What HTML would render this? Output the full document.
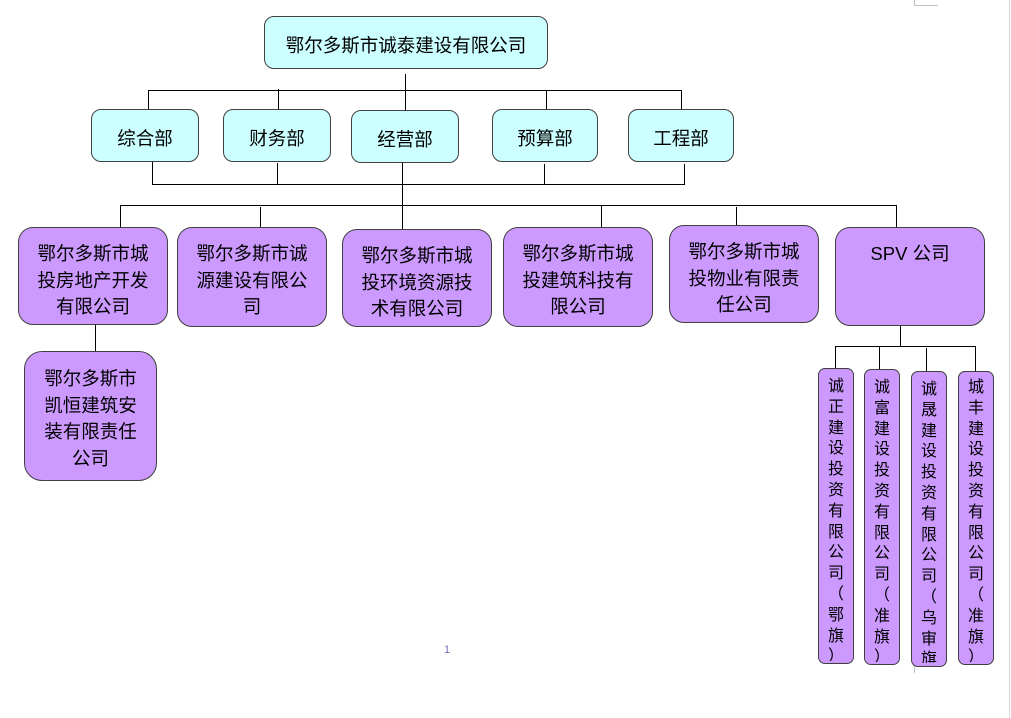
<!DOCTYPE html>
<html><head><meta charset="utf-8">
<style>
html,body{margin:0;padding:0;background:#fff;}
body{width:1011px;height:718px;position:relative;overflow:hidden;font-family:"Liberation Sans","Noto Sans CJK SC","WenQuanYi Zen Hei",sans-serif;color:#000;}
.b{position:absolute;box-sizing:border-box;border:1.4px solid #404040;text-align:center;}
.c{background:#CCFFFF;border-radius:10px;font-size:18.5px;display:flex;align-items:center;justify-content:center;padding-top:5px;}
.p{background:#CC99FF;border-radius:15px;font-size:18.5px;line-height:26.7px;padding-top:13px;}
.v{background:#CC99FF;border-radius:7px;font-size:16px;line-height:20.8px;overflow:hidden;}
.v .in{position:absolute;left:0;right:0;top:8px;overflow:hidden;}
.v .in span{display:block;height:20.8px;}
svg{position:absolute;left:0;top:0;}
</style></head><body>
<svg width="1011" height="718">
<g stroke="#000" stroke-width="1" fill="none" shape-rendering="crispEdges">
<line x1="405.5" y1="74" x2="405.5" y2="110"/>
<line x1="148" y1="90.5" x2="682" y2="90.5"/>
<line x1="148.5" y1="90" x2="148.5" y2="109"/>
<line x1="278.5" y1="89" x2="278.5" y2="109"/>
<line x1="546.5" y1="90" x2="546.5" y2="109"/>
<line x1="681.5" y1="90" x2="681.5" y2="109"/>
<line x1="152.5" y1="162" x2="152.5" y2="184"/>
<line x1="277.5" y1="163" x2="277.5" y2="184"/>
<line x1="544.5" y1="164" x2="544.5" y2="185"/>
<line x1="684.5" y1="164" x2="684.5" y2="185"/>
<line x1="152" y1="184.5" x2="685" y2="184.5"/>
<line x1="402.5" y1="163" x2="402.5" y2="229"/>
<line x1="120" y1="205.5" x2="897" y2="205.5"/>
<line x1="120.5" y1="205" x2="120.5" y2="227"/>
<line x1="260.5" y1="207" x2="260.5" y2="227"/>
<line x1="601.5" y1="205" x2="601.5" y2="227"/>
<line x1="736.5" y1="207" x2="736.5" y2="225"/>
<line x1="896.5" y1="205" x2="896.5" y2="227"/>
<line x1="95.5" y1="325" x2="95.5" y2="351"/>
<line x1="900.5" y1="326" x2="900.5" y2="347"/>
<line x1="835" y1="346.5" x2="976" y2="346.5"/>
<line x1="835.5" y1="346" x2="835.5" y2="368"/>
<line x1="879.5" y1="346" x2="879.5" y2="369"/>
<line x1="926.5" y1="348" x2="926.5" y2="371"/>
<line x1="975.5" y1="346" x2="975.5" y2="371"/>
</g>
<g stroke="#c0c0c0" stroke-width="1" shape-rendering="crispEdges">
<line x1="914.5" y1="0" x2="914.5" y2="6"/>
<line x1="914" y1="5.5" x2="938" y2="5.5"/>
<line x1="914.5" y1="666" x2="914.5" y2="673"/>
</g>
<line x1="1009.5" y1="0" x2="1009.5" y2="718" stroke="#dcdcdc" stroke-width="1" shape-rendering="crispEdges"/>
</svg>

<div class="b c" style="left:264px;top:16px;width:284px;height:53px;">鄂尔多斯市诚泰建设有限公司</div>

<div class="b c" style="left:91px;top:109px;width:108px;height:53px;">综合部</div>
<div class="b c" style="left:223px;top:109px;width:108px;height:53px;">财务部</div>
<div class="b c" style="left:351px;top:110px;width:108px;height:53px;">经营部</div>
<div class="b c" style="left:492px;top:109px;width:106px;height:53px;">预算部</div>
<div class="b c" style="left:628px;top:109px;width:106px;height:53px;">工程部</div>

<div class="b p" style="left:18px;top:227px;width:150px;height:98px;">鄂尔多斯市城<br>投房地产开发<br>有限公司</div>
<div class="b p" style="left:177px;top:227px;width:150px;height:100px;">鄂尔多斯市诚<br>源建设有限公<br>司</div>
<div class="b p" style="left:342px;top:229px;width:150px;height:98px;">鄂尔多斯市城<br>投环境资源技<br>术有限公司</div>
<div class="b p" style="left:503px;top:227px;width:150px;height:100px;">鄂尔多斯市城<br>投建筑科技有<br>限公司</div>
<div class="b p" style="left:669px;top:225px;width:150px;height:98px;">鄂尔多斯市城<br>投物业有限责<br>任公司</div>
<div class="b p" style="left:835px;top:227px;width:150px;height:99px;">SPV 公司</div>

<div class="b p" style="left:24px;top:351px;width:133px;height:130px;border-radius:18px;padding-top:14px;">鄂尔多斯市<br>凯恒建筑安<br>装有限责任<br>公司</div>

<div class="b v" style="left:818px;top:368px;width:36px;height:296px;"><div class="in" style="height:284px;"><span>诚</span><span>正</span><span>建</span><span>设</span><span>投</span><span>资</span><span>有</span><span>限</span><span>公</span><span>司</span><span>（</span><span>鄂</span><span>旗</span><span>）</span></div></div>
<div class="b v" style="left:864px;top:369px;width:36px;height:296px;"><div class="in" style="height:284px;"><span>诚</span><span>富</span><span>建</span><span>设</span><span>投</span><span>资</span><span>有</span><span>限</span><span>公</span><span>司</span><span>（</span><span>准</span><span>旗</span><span>）</span></div></div>
<div class="b v" style="left:911px;top:371px;width:36px;height:296px;"><div class="in" style="height:283px;"><span>诚</span><span>晟</span><span>建</span><span>设</span><span>投</span><span>资</span><span>有</span><span>限</span><span>公</span><span>司</span><span>（</span><span>乌</span><span>审</span><span>旗</span><span>）</span></div></div>
<div class="b v" style="left:958px;top:371px;width:36px;height:294px;"><div class="in" style="top:6px;height:284px;"><span>城</span><span>丰</span><span>建</span><span>设</span><span>投</span><span>资</span><span>有</span><span>限</span><span>公</span><span>司</span><span>（</span><span>准</span><span>旗</span><span>）</span></div></div>

<div style="position:absolute;left:444px;top:644px;font-size:11px;color:#7070b8;font-family:'Liberation Sans',sans-serif;">1</div>
</body></html>
